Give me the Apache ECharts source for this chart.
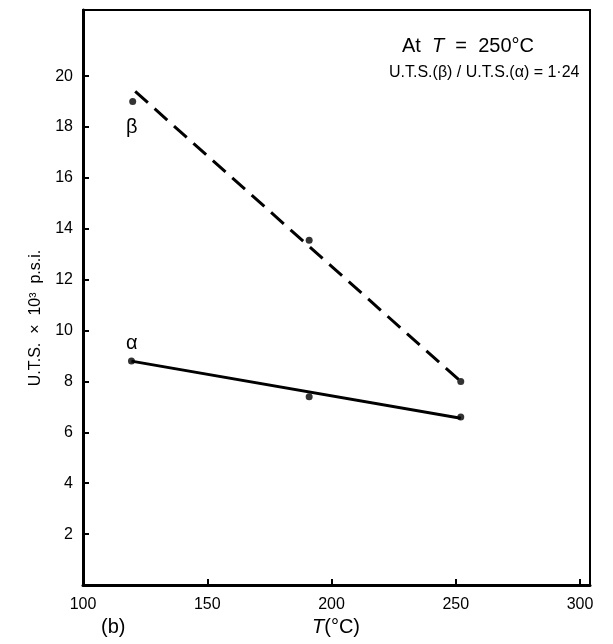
<!DOCTYPE html>
<html>
<head>
<meta charset="utf-8">
<script src="https://cdn.jsdelivr.net/npm/echarts@6/dist/echarts.min.js"></script>
<style>
html,body{margin:0;padding:0;background:#fff;}
#c{width:613px;height:644px;}
</style>
</head>
<body>
<div id="c"></div>
<script>
// Data
const xTicks = [100, 150, 200, 250, 300];
const yTicks = [2, 4, 6, 8, 10, 12, 14, 16, 18, 20];
const betaT = [120, 191, 252];
const betaUTS = [19.0, 13.55, 8.0];
const alphaT = [119.5, 191, 252];
const alphaUTS = [8.8, 7.4, 6.6];
const betaFitT = [121, 252];
const betaFitUTS = [19.4, 8.0];
const alphaFitT = [119.5, 252];
const alphaFitUTS = [8.8, 6.55];

const zip = (a, b) => a.map((v, i) => [v, b[i]]);
const FONT = 'Liberation Sans';

const chart = echarts.init(document.getElementById('c'), null, {renderer: 'canvas'});
chart.setOption({
  animation: false,
  backgroundColor: '#fff',
  textStyle: {fontFamily: FONT, color: '#000'},
  grid: {left: 83, right: 23, top: 10, bottom: 59, show: true, borderColor: '#000', borderWidth: 2},
  xAxis: {
    type: 'value', min: 100, max: 304, interval: 50,
    axisLine: {onZero: false, lineStyle: {color: '#000', width: 3}},
    axisTick: {inside: true, length: 6, lineStyle: {color: '#000', width: 2}, customValues: xTicks},
    axisLabel: {color: '#000', fontSize: 16, fontFamily: FONT, margin: 12, customValues: xTicks},
    splitLine: {show: false}
  },
  yAxis: {
    type: 'value', min: 0, max: 22.6, interval: 2,
    axisLine: {onZero: false, lineStyle: {color: '#000', width: 3}},
    axisTick: {inside: true, length: 6, lineStyle: {color: '#000', width: 2}, customValues: yTicks},
    axisLabel: {color: '#000', fontSize: 16, fontFamily: FONT, margin: 10, customValues: yTicks},
    splitLine: {show: false}
  },
  series: [
    {type: 'line', data: zip(betaFitT, betaFitUTS), symbol: 'none',
     lineStyle: {color: '#000', width: 3, type: [17, 9]}},
    {type: 'line', data: zip(alphaFitT, alphaFitUTS), symbol: 'none',
     lineStyle: {color: '#000', width: 3}},
    {type: 'scatter', data: zip(betaT, betaUTS), symbolSize: 7, itemStyle: {color: '#000'}},
    {type: 'scatter', data: zip(alphaT, alphaUTS), symbolSize: 7, itemStyle: {color: '#000'}}
  ],
  graphic: [
    {type: 'text', x: 36, y: 318, rotation: Math.PI / 2, style: {
      text: 'U.T.S.  ×  10³  p.s.i.', fontSize: 16, fontFamily: FONT, fill: '#000',
      align: 'center', verticalAlign: 'middle'}},
    {type: 'text', left: 126, top: 117, style: {text: 'β', fontSize: 20, fontFamily: FONT, fill: '#000'}},
    {type: 'text', left: 126, top: 333, style: {text: 'α', fontSize: 20, fontFamily: FONT, fill: '#000'}},
    {type: 'text', left: 402, top: 36, style: {
      text: 'At  {i|T}  =  250°C', fontSize: 20, fontFamily: FONT, fill: '#000',
      rich: {i: {fontStyle: 'italic', fontSize: 20, fontFamily: FONT}}}},
    {type: 'text', left: 389, top: 65, style: {
      text: 'U.T.S.(β) / U.T.S.(α) = 1·24', fontSize: 16, fontFamily: FONT, fill: '#000'}},
    {type: 'text', left: 101, top: 617, style: {text: '(b)', fontSize: 20, fontFamily: FONT, fill: '#000'}},
    {type: 'text', left: 312, top: 617, style: {
      text: '{i|T}(°C)', fontSize: 20, fontFamily: FONT, fill: '#000',
      rich: {i: {fontStyle: 'italic', fontSize: 20, fontFamily: FONT}}}}
  ]
});
</script>
</body>
</html>
